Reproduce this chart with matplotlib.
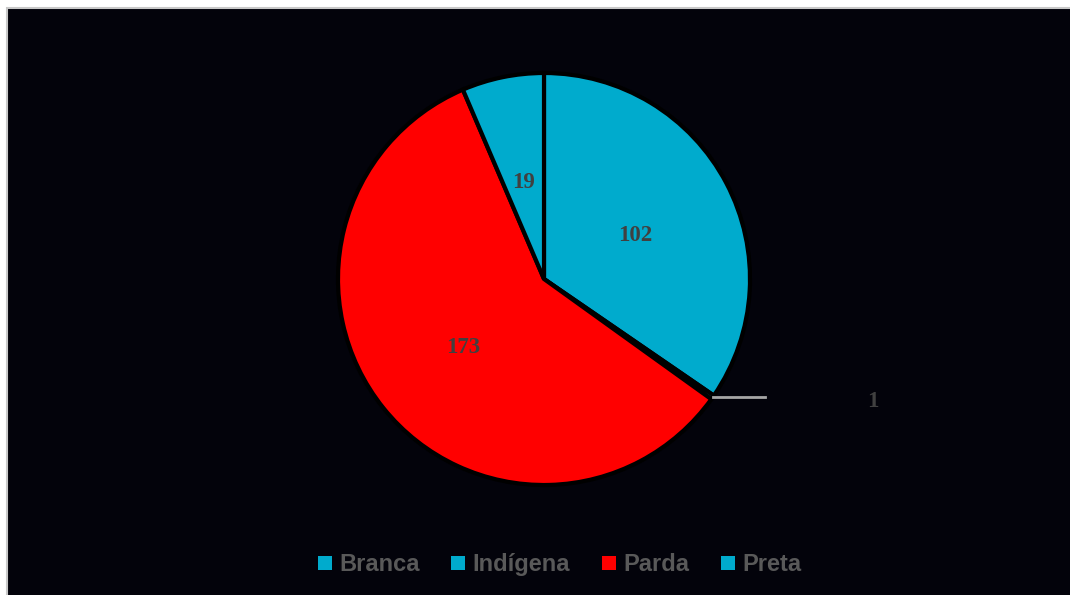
import numpy as np
import matplotlib.pyplot as plt
from matplotlib.patches import Rectangle

categorias = ['Branca', 'Indígena', 'Parda', 'Preta']
valores = [102, 1, 173, 19]
cores = ['#00ABCD', '#00ABCD', '#FF0000', '#00ABCD']

W, H = 1070, 595
fig = plt.figure(figsize=(W / 100, H / 100), dpi=100, facecolor='white')

# fundo escuro com borda cinza
fig.patches.append(Rectangle((7 / W, -0.01), 1.01, 1 - 8 / H + 0.01,
                             transform=fig.transFigure, facecolor='#03030B',
                             edgecolor='#C8C8C8', lw=1.5, zorder=-5))

cx, cy, r = 544, 279, 206
ax = fig.add_axes([(cx - r) / W, (H - cy - r) / H, 2 * r / W, 2 * r / H])
ax.set_facecolor('none')

wedges, _ = ax.pie(valores, colors=cores, startangle=90, counterclock=False,
                   radius=1, wedgeprops=dict(edgecolor='black', linewidth=3))
ax.set_xlim(-1, 1)
ax.set_ylim(-1, 1)
ax.set_aspect('auto')
ax.axis('off')

fonte_num = dict(family='Liberation Serif', weight='bold', size=16.5, color='#404040')
for w, v in zip(wedges, valores):
    ang = np.deg2rad((w.theta1 + w.theta2) / 2)
    if v == 1:
        x0, y0 = np.cos(ang), np.sin(ang)
        ax.plot([x0, 1.073], [y0, y0], color='#A6A6A6', lw=2, clip_on=False)
        ax.text(1.597, y0 - 0.02, str(v), ha='center', va='center', **fonte_num)
    else:
        ax.text(0.5 * np.cos(ang), 0.5 * np.sin(ang) - 0.02, str(v),
                ha='center', va='center', **fonte_num)

# legenda desenhada à mão, com todos os textos na mesma linha de base
leg_x = [318, 451, 602, 721]
leg_y = 563
q = 14
for x, nome, c in zip(leg_x, categorias, cores):
    fig.patches.append(Rectangle((x / W, (H - leg_y - q / 2) / H), q / W, q / H,
                                 transform=fig.transFigure, facecolor=c, zorder=2))
    fig.text((x + q + 7) / W, (H - leg_y - 8) / H, nome, ha='left', va='baseline',
             family='Liberation Sans', weight='bold', size=17, color='#595959')

fig.savefig('out.png', dpi=100, facecolor=fig.get_facecolor())
